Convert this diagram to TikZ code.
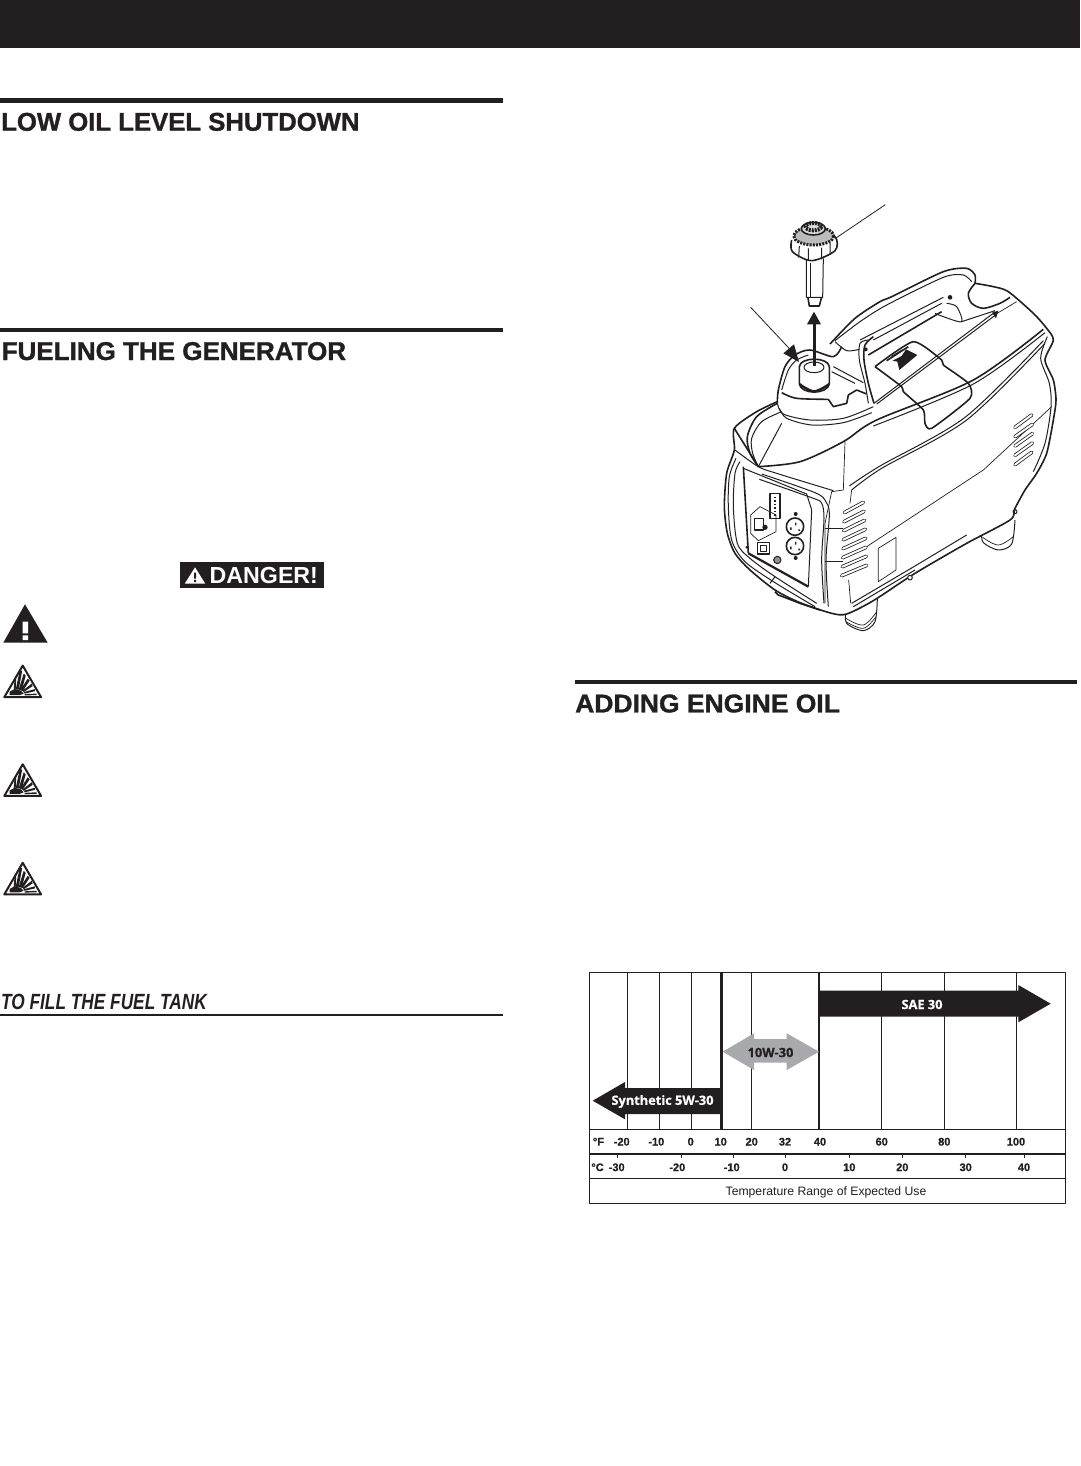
\documentclass[tikz,border=0pt]{standalone}
\usepackage{fontspec}
\setmainfont{Liberation Sans}
\newfontfamily\heavyfont[BoldFeatures={FakeBold=1.2}]{Liberation Sans}
\newfontfamily\chartfont[BoldFeatures={FakeBold=.8}]{Open Sans}
\newfontfamily\tempfont[BoldFeatures={FakeBold=.7}]{Liberation Sans}
\definecolor{ink}{HTML}{231F20}
\definecolor{greyarrow}{HTML}{A7A9AC}
\tikzset{every picture/.style={x=1pt,y=-1pt,line join=round,every node/.style={inner sep=0pt,text=ink}}}
\tikzset{
  heading/.style={anchor=base west,font=\heavyfont\fontsize{25.7}{30}\bfseries\selectfont},
  subheading/.style={anchor=base west,xscale=.785,font=\heavyfont\fontsize{22}{26}\bfseries\itshape\selectfont},
  rulebar/.style={fill=ink},
  gridline/.style={draw=ink,line width=.8pt},
  gridheavy/.style={draw=ink,line width=2.2pt},
  rowline/.style={draw=ink,line width=1.4pt},
  templabel/.style={font=\tempfont\fontsize{11}{13}\bfseries\selectfont},
  oillabel/.style={font=\chartfont\fontsize{12.8}{14}\bfseries\selectfont},
  thin body/.style={draw=ink,line width=.7pt},
  body/.style={draw=ink,line width=1pt},
  heavy body/.style={draw=ink,line width=1.6pt},
  ventslot/.style={draw=ink,line width=.8pt,double=white,double distance=2pt,line cap=round},
  explosion/.pic={
    \draw[ink,fill=white,line width=2pt] (0,2)--(18.4,33.6)--(-18.4,33.6)--cycle;
    \fill[ink] (-13,28)--(-8,25.5)--(-2,27)--(1,30)--(-3,31.5)--(-13,31.5)--cycle;
    \fill[ink] (-7,26)--(-3,7)--(-.5,7)--(-4,26)--cycle;
    \fill[ink] (-4,26)--(1,10)--(3,12)--(-1,27)--cycle;
    \fill[ink] (-2,26)--(5,15)--(7,17)--(0,27.5)--cycle;
    \fill[ink] (0,27)--(9,20)--(10,22.5)--(1,28.5)--cycle;
    \fill[ink] (1,28.5)--(12,25.5)--(12.5,27.5)--(2,30)--cycle;
    \fill[ink] (2,30.5)--(14,30)--(14,31.5)--(2,31.8)--cycle;
    \fill[ink] (-9,26)--(-8,14)--(-6.5,14)--(-7,26)--cycle;
  }
}

\begin{document}
\begin{tikzpicture}

  \useasboundingbox (0,0) rectangle (1080,1466);
  \fill[rulebar] (0,0) rectangle (1080,48);

  \fill[rulebar] (0,98.3) rectangle (503,102.7);
  \node[heading] (lowoil) at (1,130.7){LOW OIL LEVEL SHUTDOWN};
  \fill[rulebar] (0,327.7) rectangle (503,332);
  \node[heading,xscale=1.012] (fueling) at (1.5,360){FUELING THE GENERATOR};
  \fill[rulebar] (575,680) rectangle (1077,684.3);
  \node[heading,xscale=1.03] (addingoil) at (575,712.4){ADDING ENGINE OIL};
  \node[subheading] (fillingtank) at (1,1009.5){TO FILL THE FUEL TANK};
  \fill[rulebar] (0,1014) rectangle (503,1016.4);

  \fill[rulebar] (180,562) rectangle (324,588);
  \fill[white] (195,567.3)--(205.2,583.6)--(184.8,583.6)--cycle;
  \fill[ink] (194,572.5) rectangle (196,578.5) (194,579.8) rectangle (196,582);
  \node[anchor=base west,text=white,font=\fontsize{23.2}{26}\bfseries\selectfont] (danger) at (209.5,583.5){DANGER!};

  \fill[ink] (25,604.3)--(47.7,642.7)--(3.3,642.7)--cycle;
  \fill[white] (22.7,621.7) rectangle (28,633.4) (22.7,635.3) rectangle (28,640);
  \pic (boomone) at (22.7,663.6){explosion};
  \pic (boomtwo) at (22.7,762.3){explosion};
  \pic (boomthree) at (22.7,860.8){explosion};

  \begin{scope}[shift={(700,190)},x=.33333pt,y=-.33333pt]

    \draw[body,fill=white] plot[smooth,tension=.5] coordinates {(845,1030) (850,1058) (895,1080) (935,1062) (945,990)};
    \draw[thin body] plot[smooth,tension=.6] coordinates {(848,1042) (895,1065) (940,1040)};
    \draw[body,fill=white] plot[smooth,tension=.5] coordinates {(437,1260) (440,1300) (490,1322) (525,1295) (532,1225)};
    \draw[thin body] plot[smooth,tension=.6] coordinates {(438,1285) (490,1305) (530,1265)};
    \draw[thin body] plot[smooth,tension=.6] coordinates {(438,1295) (490,1315) (528,1280)};

    \fill[white] plot[smooth cycle,tension=.45] coordinates {(103,715) (103,780) (80,850) (73,950) (82,1030) (105,1090) (150,1140) (225,1200) (300,1238) (395,1270) (440,1272) (520,1232) (645,1150) (800,1060) (930,990) (975,900) (1010,850) (1040,790) (1060,690) (1068,630) (1060,570) (1035,510) (1060,450) (1040,415) (1000,370) (925,305) (880,290) (825,280) (700,330) (520,420) (400,480) (232,635) (170,665)};
    \draw[heavy body] plot[smooth,tension=.45] coordinates {(825,280) (880,290) (925,305) (1000,370) (1040,415) (1060,450) (1035,510) (1060,570) (1068,630) (1060,690) (1040,790) (1010,850) (975,900) (945,955) (930,990) (800,1060) (645,1150) (520,1232) (440,1272) (395,1270) (300,1238) (225,1200) (150,1140) (105,1090) (82,1030) (73,950) (80,850) (103,780) (103,715) (170,665) (232,635)};
    \draw[body] plot[smooth,tension=.5] coordinates {(1042,440) (1022,505) (1048,580) (1053,650) (1035,760) (1000,845)};

    \draw[heavy body] plot[smooth,tension=.45] coordinates {(390,462) (465,385) (540,335) (575,320) (730,245) (800,235) (825,255) (825,280)};
    \draw[body] plot[smooth,tension=.45] coordinates {(405,452) (480,395) (560,345) (730,262) (790,255) (815,275)};
    \draw[heavy body] (505,495)--(725,365);
    \draw[body] (520,450)--(725,340);
    \draw[body] (480,450)--(730,322);
    \draw[body] plot[smooth,tension=.5] coordinates {(405,455) (440,482) (478,478)};
    \draw[heavy body] plot[smooth,tension=.5] coordinates {(520,440) (495,465) (492,510) (505,580) (522,640)};
    \draw[body] plot[smooth,tension=.5] coordinates {(505,450) (480,460) (478,510) (495,580) (505,640)};
    \fill[ink] (497,478) circle (6);
    \draw[body] plot[smooth,tension=.5] coordinates {(740,340) (770,350) (785,395) (730,380) (705,370)};
    \fill[ink] (750,322) circle (7);
    \draw[heavy body] plot[smooth,tension=.5] coordinates {(825,280) (805,310) (815,340) (850,355) (900,340) (930,322)};
    \draw[body] (785,395)--(885,362);
    \fill[ink] (876,368)--(895,362)--(888,385)--cycle;
    \draw[body] (885,366)--(522,640);
    \draw[body] (888,374)--(530,642);
    \draw[thin body] (950,335)--(888,372);

    \draw[heavy body] plot[smooth,tension=.5] coordinates {(232,640) (235,600) (255,530) (285,495) (330,480) (400,500) (425,470)};
    \draw[body] plot[smooth,tension=.5] coordinates {(245,600) (265,540) (290,510) (325,495)};
    \draw[heavy body] plot[smooth,tension=.5] coordinates {(245,608) (290,625) (385,628)};
    \draw[heavy body] (385,628)--(400,650)--(440,640)--(445,615)--(470,600)--(500,612);
    \draw[body] (400,530)--(490,578);
    \draw[body] (395,545)--(465,580);
    \draw[body] plot[smooth,tension=.5] coordinates {(232,640) (250,672) (330,690) (430,685) (520,650)};
    \draw[body] plot[smooth,tension=.5] coordinates {(238,655) (260,685) (335,705) (430,698) (515,668)};
    \draw[heavy body,fill=white] (298,530)--(298,580) .. controls (300,615) and (385,615) .. (388,580)--(388,530) .. controls (385,500) and (300,500) .. (298,530)--cycle;
    \draw[body] (342,532) ellipse (30 and 16);
    \draw[line width=2.4pt,ink] plot[smooth,tension=.6] coordinates {(298,582) (342,604) (388,582)};

    \draw[heavy body] plot[smooth,tension=.5] coordinates {(232,640) (170,680) (142,740) (150,790) (175,830)};
    \draw[body] plot[smooth,tension=.5] coordinates {(245,665) (185,695) (155,745) (158,790) (175,830)};
    \draw[body] (175,830)--(245,700);
    \draw[heavy body] (103,715)--(175,830);
    \draw[heavy body] plot[smooth,tension=.5] coordinates {(175,830) (300,815) (430,755) (530,690) (820,570) (1030,418)};
    \draw[body] plot[smooth,tension=.5] coordinates {(520,708) (820,582) (1035,428)};
    \draw[body] plot[smooth,tension=.5] coordinates {(455,900) (545,835) (800,690) (1035,460)};
    \draw[body] plot[smooth,tension=.5] coordinates {(448,888) (540,828) (795,682) (1030,452)};
    \draw[thin body] (500,1070)--(850,840)--(1055,650);
    \draw[thin body] (435,755)--(430,900);
    \draw[thin body] (455,900)--(450,940);
    \draw[thin body] (446,1170)--(452,1240);
    \draw[thin body] (375,1015)--(430,1015);
    \draw[thin body] (375,1115)--(430,1115);
    \draw[thin body] (430,900)--(395,905)--(375,1000)--(375,1240);
    \draw[thin body] (535,1075)--(588,1042)--(588,1140)--(535,1175)--cycle;
    \draw[body] (455,1240)--(645,1128)--(800,1035);
    \draw[body] (460,1250)--(645,1140);
    \draw[body,fill=white] (630,1163) circle (7);
    \draw[body] (945,965) circle (6);

    \draw[heavy body] plot[smooth,tension=.35] coordinates {(525,530) (640,455) (725,510) (730,525) (805,580) (810,625) (695,715) (675,700) (670,660) (610,605) (605,590) (525,530)};
    \fill[ink] (578,512)--(605,498)--(618,478)--(652,495)--(598,540)--(592,515)--cycle;
    \draw[ink,line width=1.6pt] (560,512)--(625,470) (575,500)--(608,480);

    \draw[body] plot[smooth,tension=.5] coordinates {(105,780) (175,830) (230,850) (400,902)};
    \draw[body] plot[smooth,tension=.5] coordinates {(120,815) (105,850) (100,950) (112,1060) (150,1105) (225,1160) (350,1240)};
    \draw[body] plot[smooth,tension=.5] coordinates {(108,805) (88,860) (85,950) (95,1050) (135,1115) (225,1178) (345,1250)};
    \draw[body] plot[smooth,tension=.5] coordinates {(178,868) (340,925) (365,940) (372,985) (365,1110) (372,1240)};
    \draw[body] plot[smooth,tension=.5] coordinates {(185,852) (345,908) (378,935) (388,975) (378,1110) (385,1250)};
    \draw[heavy body] (130,830)--(145,1090);
    \draw[body] (130,835)--(320,912)--(335,960)--(325,1190);
    \draw[line width=2.2pt,ink] (145,1090)--(325,1190);
    \draw[body] (225,1160)--(210,1180);
    \draw[heavy body] (225,1205)--(235,1215)--(300,1240)--(360,1260);

    \draw[heavy body] (210,910) rectangle (240,985);
    \draw[ink,line width=1.5pt,dotted] (225,920)--(225,980);
    \draw[thin body] (152,975)--(180,950)--(228,975)--(228,1025)--(175,1052)--(152,1030)--cycle;
    \draw[heavy body] (163,985) rectangle (190,1020);
    \fill[ink] (195,1012) circle (8);
    \draw[heavy body] (285,1010) circle (26);
    \draw[heavy body] (285,1068) circle (26);
    \fill[ink] (270,1012) rectangle (275,1020) (285,998) rectangle (289,1006) (295,1018) rectangle (300,1023);
    \fill[ink] (270,1070) rectangle (275,1078) (285,1056) rectangle (289,1064) (295,1076) rectangle (300,1081);
    \fill[ink] (287,972) circle (6) (287,1104) circle (6);
    \draw[heavy body] (172,1058) rectangle (208,1092);
    \draw[heavy body] (182,1066) rectangle (200,1084);
    \draw[body,fill=ink!50] (232,1110) circle (11);
    \fill[ink] (140,1072) circle (4);

    \draw[ventslot] (433,968)--(490,937);
    \draw[ventslot] (432,995)--(492,964);
    \draw[ventslot] (431,1022)--(494,991);
    \draw[ventslot] (430,1049)--(496,1018);
    \draw[ventslot] (429,1076)--(497,1045);
    \draw[ventslot] (428,1103)--(498,1072);
    \draw[ventslot] (427,1130)--(499,1099);
    \draw[ventslot] (425,1157)--(500,1126);
    \draw[ventslot] (945,712)--(995,675);
    \draw[ventslot] (945,740)--(997,703);
    \draw[ventslot] (945,768)--(997,731);
    \draw[ventslot] (945,796)--(997,759);
    \draw[ventslot] (945,824)--(995,787);

    \draw[body] (319,205)--(319,322)--(368,322)--(370,205);
    \draw[thin body] (331,220)--(331,320);
    \draw[heavy body] (324,324)--(328,348)--(358,348)--(364,324);
    \draw[heavy body,fill=white] plot[smooth,tension=.5] coordinates {(275,150) (277,185) (335,212) (405,182) (405,140) (340,110)};
    \draw[ink,fill=ink!30,line width=3pt,dash pattern=on 2pt off 1.2pt] (341,138) ellipse (60 and 27);
    \draw[heavy body,fill=ink!15] (340,116) ellipse (36 and 19);
    \draw[ink,line width=4pt,dash pattern=on 2pt off 1pt] (340,110) ellipse (24 and 11);
    \draw[body] (298,168)--(296,202) (325,175)--(325,210) (365,173)--(365,208) (390,158)--(390,195);

    \coordinate (capstart) at (405,146);
    \coordinate (capend) at (556,44);
    \coordinate (neckstart) at (152,352);
    \coordinate (necktip) at (297,516);
    \coordinate (neckbarb) at (272,480);
    \coordinate (pullstart) at (343,528);
    \coordinate (pullbase) at (343,400);
    \draw[ink,line width=.8pt] (capstart)--(capend);
    \draw[ink,line width=.8pt] (neckstart)--(neckbarb);
    \fill[ink] (necktip)--(250,490)--(282,463)--cycle;
    \draw[ink,line width=2.6pt] (pullstart)--(pullbase);
    \fill[ink] (342,365)--(321,403)--(363,403)--cycle;
  \end{scope}

  \draw[gridline,fill=white] (589.3,972.7) rectangle (1065.3,1203.3);
  \draw[line width=1.4pt,ink] (589.3,972.7)--(1065.3,972.7);
  \draw[gridline] (627.3,972.7)--(627.3,1129.3);
  \draw[gridline] (659.3,972.7)--(659.3,1129.3);
  \draw[gridline] (691.3,972.7)--(691.3,1129.3);
  \draw[gridline] (751.3,972.7)--(751.3,1129.3);
  \draw[gridline] (881.3,972.7)--(881.3,1129.3);
  \draw[gridline] (944.3,972.7)--(944.3,1129.3);
  \draw[gridline] (1016.3,972.7)--(1016.3,1129.3);
  \draw[line width=2.6pt,ink] (721.7,972.7)--(721.7,1129.3);
  \draw[gridheavy] (819,972.7)--(819,1129.3);
  \draw[gridline] (589.3,1129.3)--(1065.3,1129.3);
  \draw[rowline] (589.3,1154)--(1065.3,1154);
  \draw[rowline] (589.3,1178.7)--(1065.3,1178.7);

  \fill[ink] (819,990.7)--(1018.3,990.7)--(1018.3,985)--(1050.7,1003.7)--(1018.3,1022.3)--(1018.3,1016.7)--(819,1016.7)--cycle;
  \fill[greyarrow] (722.7,1051.7)--(754,1033.3)--(754,1039)--(786.7,1039)--(786.7,1033.3)--(819,1051.7)--(786.7,1070)--(786.7,1062.7)--(754,1062.7)--(754,1070)--cycle;
  \fill[ink] (592.7,1100.7)--(625,1082)--(625,1088)--(721.7,1088)--(721.7,1114)--(625,1114)--(625,1119.3)--cycle;
  \node[oillabel,text=white] (saethirty) at (922,1004.5){SAE 30};
  \node[oillabel] (tenwthirty) at (770.5,1052.5){10W-30};
  \node[oillabel,text=white] (synthetic) at (662.5,1101.5){Synthetic 5W-30};

  \node[templabel] (fdeg) at (598.5,1141.7){°F};
  \node[templabel] (fa) at (621.7,1141.7){-20};
  \node[templabel] (fb) at (656.3,1141.7){-10};
  \node[templabel] (fc) at (690.7,1141.7){0};
  \node[templabel] (fd) at (720.7,1141.7){10};
  \node[templabel] (fe) at (751.7,1141.7){20};
  \node[templabel] (ff) at (785,1141.7){32};
  \node[templabel] (fg) at (820,1141.7){40};
  \node[templabel] (fh) at (881.7,1141.7){60};
  \node[templabel] (fi) at (944.3,1141.7){80};
  \node[templabel] (fj) at (1016,1141.7){100};

  \node[templabel] (cdeg) at (597.5,1167.3){°C};
  \node[templabel] (ca) at (616.7,1167.3){-30};
  \node[templabel] (cb) at (677.3,1167.3){-20};
  \node[templabel] (cc) at (731.7,1167.3){-10};
  \node[templabel] (cd) at (785,1167.3){0};
  \node[templabel] (ce) at (849.3,1167.3){10};
  \node[templabel] (cf) at (902.3,1167.3){20};
  \node[templabel] (cg) at (965.7,1167.3){30};
  \node[templabel] (ch) at (1024,1167.3){40};

  \draw[gridline] (617.7,1154)--(617.7,1158);
  \draw[gridline] (681.3,1154)--(681.3,1158);
  \draw[gridline] (733.3,1154)--(733.3,1158);
  \draw[gridline] (785,1154)--(785,1158);
  \draw[gridline] (849.3,1154)--(849.3,1158);
  \draw[gridline] (902.3,1154)--(902.3,1158);
  \draw[gridline] (965.7,1154)--(965.7,1158);
  \draw[gridline] (1024,1154)--(1024,1158);

  \node[font=\fontsize{12.2}{14}\selectfont] (tempcaption) at (826,1192){Temperature Range of Expected Use};

\end{tikzpicture}
\end{document}
